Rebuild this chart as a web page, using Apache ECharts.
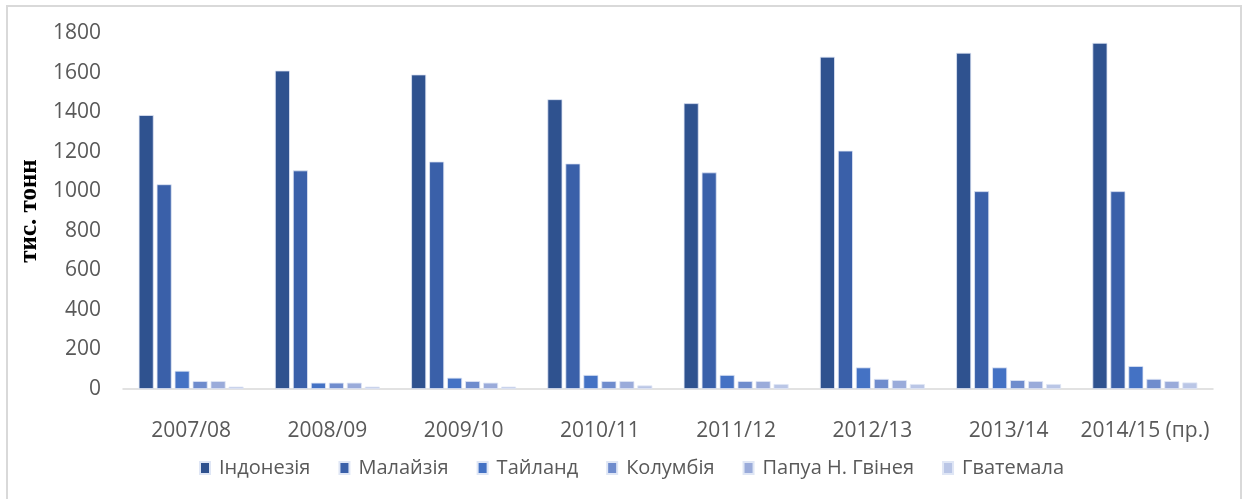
<!DOCTYPE html>
<html>
<head>
<meta charset="utf-8">
<script src="https://cdn.jsdelivr.net/npm/echarts@6/dist/echarts.min.js"></script>
<style>html,body{margin:0;padding:0;background:#fff}#c{width:1248px;height:499px}</style>
</head>
<body>
<div id="c"></div>
<script>
const categories = ['2007/08','2008/09','2009/10','2010/11','2011/12','2012/13','2013/14','2014/15 (пр.)'];
const seriesNames = ['Індонезія','Малайзія','Тайланд','Колумбія','Папуа Н. Гвінея','Гватемала'];
const indonesia = [1385,1610,1590,1465,1445,1680,1700,1750];
const malaysia  = [1035,1105,1150,1140,1095,1205,1000,1000];
const thailand  = [92,32,57,71,71,109,109,116];
const colombia  = [40,32,40,40,40,51,45,51];
const papua     = [40,32,32,40,40,45,40,40];
const guatemala = [12,12,12,18,25,25,25,33];
const yTicks = [0,200,400,600,800,1000,1200,1400,1600,1800];
const yTitle = 'тис. тонн';

const colors = ['#2F528F','#3A60A9','#4472C4','#6F8CCD','#9AABDA','#BAC6E6'];
const allData = [indonesia, malaysia, thailand, colombia, papua, guatemala];
const font = '"Open Sans", Lato, sans-serif';

const chart = echarts.init(document.getElementById('c'), null, {renderer:'canvas'});
chart.setOption({
  animation: false,
  backgroundColor: '#fff',
  graphic: [{
    type: 'rect', shape: {x: 7, y: 6, width: 1234, height: 500},
    style: {fill: 'none', stroke: '#d9d9d9', lineWidth: 2}, z: -1
  }],
  grid: {left: 123, right: 35, top: 33, bottom: 110, containLabel: false},
  legend: {
    data: seriesNames, top: 453, left: 194,
    itemWidth: 10, itemHeight: 12, itemGap: 28,
    icon: 'rect',
    textStyle: {fontFamily: font, fontSize: 20, color: '#595959', padding: [0,0,0,4]}
  },
  xAxis: {
    type: 'category', data: categories,
    axisLine: {lineStyle: {color: '#d9d9d9', width: 1.5}},
    axisTick: {show: false},
    axisLabel: {interval: 0, fontFamily: font, fontSize: 21, color: '#595959', margin: 32}
  },
  yAxis: {
    type: 'value', min: 0, max: 1800, interval: 200,
    name: yTitle, nameLocation: 'middle', nameGap: 78, nameRotate: 90,
    nameTextStyle: {fontFamily: '"Liberation Serif", serif', fontWeight: 'bold', fontSize: 25, color: '#000'},
    splitLine: {show: false},
    axisLine: {show: false}, axisTick: {show: false},
    axisLabel: {fontFamily: font, fontSize: 21, color: '#595959', margin: 22,
      formatter: v => yTicks.includes(v) ? String(v) : ''}
  },
  series: seriesNames.map((n, i) => ({
    name: n, type: 'bar', data: allData[i],
    barGap: '20%', barCategoryGap: '23%',
    itemStyle: {color: colors[i], borderColor: '#dfe6f5', borderWidth: 0.8}
  }))
});
</script>
</body>
</html>
